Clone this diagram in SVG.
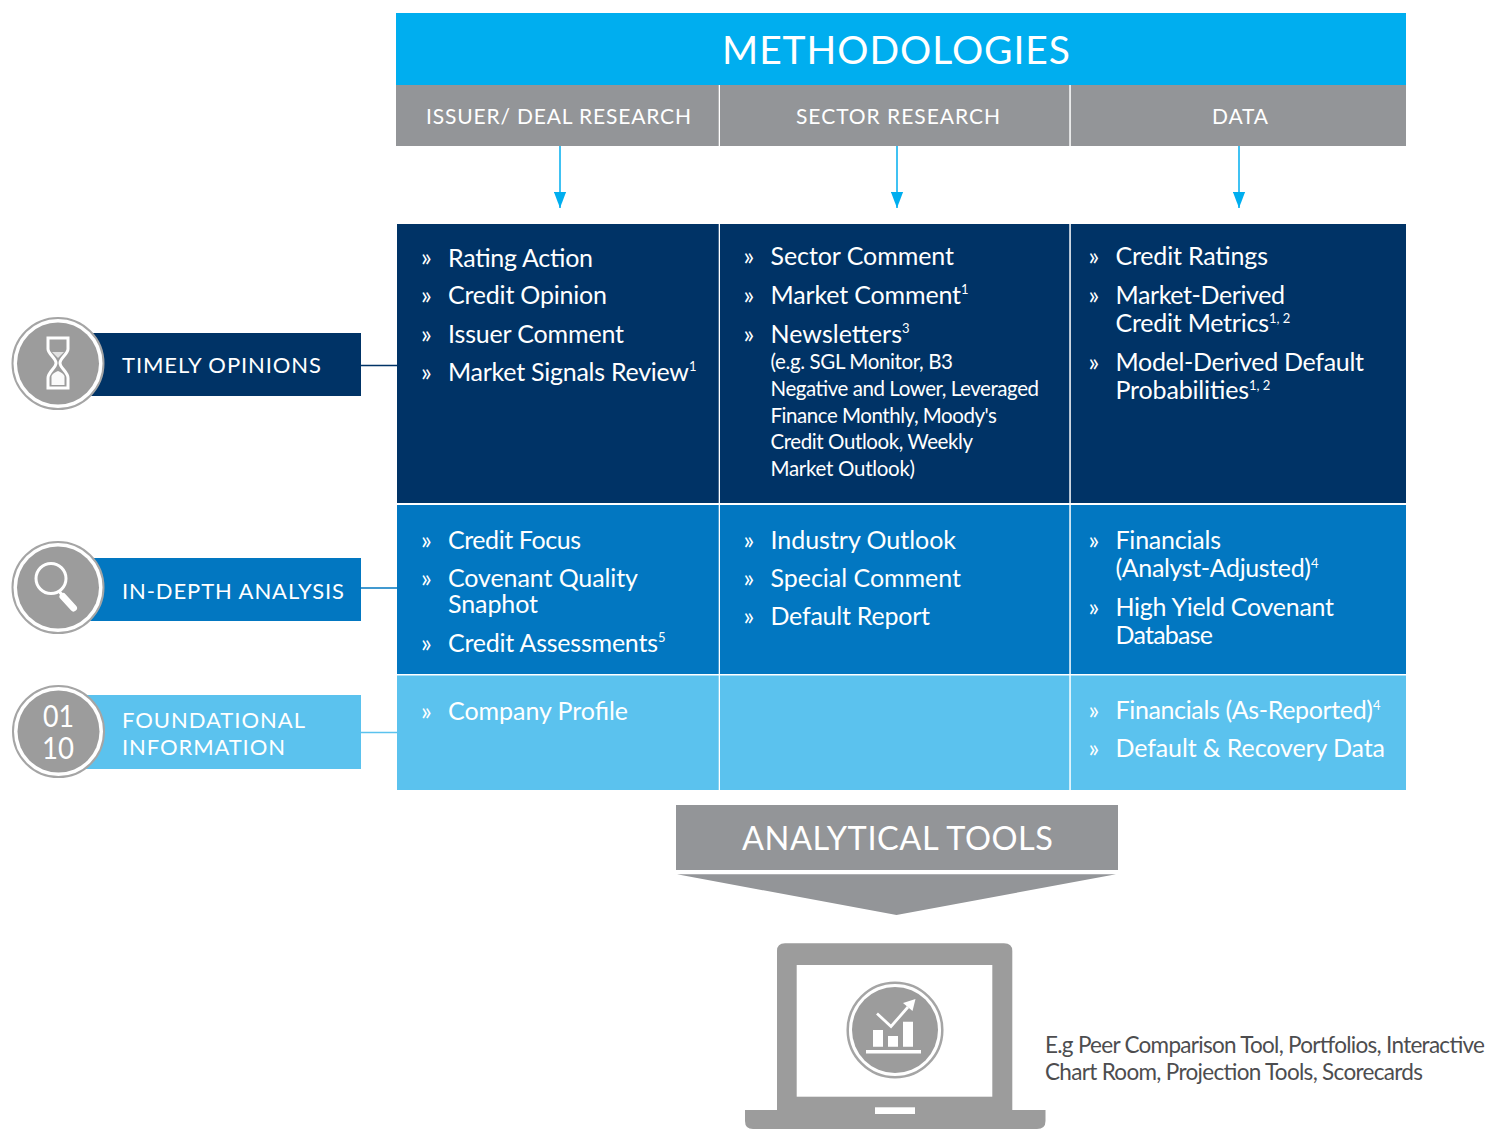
<svg xmlns="http://www.w3.org/2000/svg" width="1488" height="1129" viewBox="0 0 1488 1129">
<style>
text{font-family:"Lato","Open Sans",sans-serif;fill:#fff}
.h{font-size:21px}
.i{font-size:25px}
.s{font-size:20.5px}
.b{font-size:25px}
.u{font-size:13px}
.lb{font-size:22px}
.d{font-size:30.500px}
.n{font-size:22.500px;fill:#4d4d4f}
.navy{fill:#003366}.mid{fill:#0277c1}.lt{fill:#5bc2ee}.gr{fill:#939598}.ic{fill:#9c9c9c}
.ring{fill:#fff;stroke:#a5a5a5;stroke-width:2}
.arrow{stroke:#00aeef;stroke-width:1.500;fill:none;marker-end:url(#ah)}
</style>
<defs>
<marker id="ah" markerUnits="userSpaceOnUse" markerWidth="17" markerHeight="13" refX="16.500" refY="6.500" orient="auto" viewBox="0 0 17 13"><path d="M0 0.200L16.500 6.500L0 12.800Z" fill="#00aeef"/></marker>
</defs>
<rect width="1488" height="1129" fill="#fff"/>
<g id="methodologies"><rect x="396" y="13" width="1010" height="72" fill="#00aeef"/><text x="722" y="64" font-size="39" textLength="348">METHODOLOGIES</text></g>
<g id="col-issuer"><rect x="396" y="85" width="322.700" height="61" class="gr"/><text x="426" y="124" class="h" textLength="265">ISSUER/ DEAL RESEARCH</text></g>
<g id="col-sector"><rect x="720" y="85" width="349.300" height="61" class="gr"/><text x="796" y="124" class="h" textLength="204">SECTOR RESEARCH</text></g>
<g id="col-data"><rect x="1070.800" y="85" width="335.200" height="61" class="gr"/><text x="1212" y="124" class="h" textLength="56">DATA</text></g>
<g id="connectors">
<path d="M560 146V208" class="arrow"/>
<path d="M897 146V208" class="arrow"/>
<path d="M1239 146V208" class="arrow"/>
<path d="M361 365.500H397" stroke="#003366" stroke-width="1.500"/>
<path d="M361 588H397" stroke="#0277c1" stroke-width="1.500"/>
<path d="M361 732.500H397" stroke="#5bc2ee" stroke-width="1.500"/>
</g>
<g id="cell-r1c1"><rect x="397" y="224" width="321.700" height="279" class="navy"/>
<text x="421" y="266" class="b">»</text><text x="448" y="267" class="i" textLength="145">Rating Action</text>
<text x="421" y="304" class="b">»</text><text x="448" y="304" class="i" textLength="159">Credit Opinion</text>
<text x="421" y="343" class="b">»</text><text x="448" y="343" class="i" textLength="176">Issuer Comment</text>
<text x="421" y="381" class="b">»</text><text x="448" y="381" class="i" textLength="241">Market Signals Review</text><text x="689" y="371" class="u">1</text></g>
<g id="cell-r1c2"><rect x="720" y="224" width="349.300" height="279" class="navy"/>
<text x="743.500" y="265" class="b">»</text><text x="770.500" y="265" class="i" textLength="183.500">Sector Comment</text>
<text x="743.500" y="304" class="b">»</text><text x="770.500" y="304" class="i" textLength="190.500">Market Comment</text><text x="961" y="294" class="u">1</text>
<text x="743.500" y="343" class="b">»</text><text x="770.500" y="343" class="i" textLength="131.500">Newsletters</text><text x="902" y="333" class="u">3</text>
<text x="770.500" y="369" class="s" textLength="182.500">(e.g. SGL Monitor, B3</text>
<text x="770.500" y="396" class="s" textLength="268.500">Negative and Lower, Leveraged</text>
<text x="770.500" y="423" class="s" textLength="226.500">Finance Monthly, Moody's</text>
<text x="770.500" y="449" class="s" textLength="202.500">Credit Outlook, Weekly</text>
<text x="770.500" y="476" class="s" textLength="144.500">Market Outlook)</text></g>
<g id="cell-r1c3"><rect x="1070.800" y="224" width="335.200" height="279" class="navy"/>
<text x="1088.500" y="265" class="b">»</text><text x="1115.500" y="265" class="i" textLength="152.500">Credit Ratings</text>
<text x="1088.500" y="304" class="b">»</text><text x="1115.500" y="304" class="i" textLength="169.500">Market-Derived</text>
<text x="1115.500" y="332" class="i" textLength="153.500">Credit Metrics</text><text x="1269" y="323" class="u">1, 2</text>
<text x="1088.500" y="371" class="b">»</text><text x="1115.500" y="371" class="i" textLength="248.500">Model-Derived Default</text>
<text x="1115.500" y="399" class="i" textLength="133.500">Probabilities</text><text x="1249" y="390" class="u">1, 2</text></g>
<g id="cell-r2c1"><rect x="397" y="505" width="321.700" height="169" class="mid"/>
<text x="421" y="549" class="b">»</text><text x="448" y="549" class="i" textLength="133">Credit Focus</text>
<text x="421" y="587" class="b">»</text><text x="448" y="587" class="i" textLength="190">Covenant Quality</text>
<text x="448" y="613" class="i" textLength="90">Snaphot</text>
<text x="421" y="652" class="b">»</text><text x="448" y="652" class="i" textLength="210">Credit Assessments</text><text x="658" y="642" class="u">5</text></g>
<g id="cell-r2c2"><rect x="720" y="505" width="349.300" height="169" class="mid"/>
<text x="743.500" y="549" class="b">»</text><text x="770.500" y="549" class="i" textLength="185.500">Industry Outlook</text>
<text x="743.500" y="587" class="b">»</text><text x="770.500" y="587" class="i" textLength="190.500">Special Comment</text>
<text x="743.500" y="625" class="b">»</text><text x="770.500" y="625" class="i" textLength="159.500">Default Report</text></g>
<g id="cell-r2c3"><rect x="1070.800" y="505" width="335.200" height="169" class="mid"/>
<text x="1088.500" y="549" class="b">»</text><text x="1115.500" y="549" class="i" textLength="105.500">Financials</text>
<text x="1115.500" y="577" class="i" textLength="195.500">(Analyst-Adjusted)</text><text x="1311" y="568" class="u">4</text>
<text x="1088.500" y="616" class="b">»</text><text x="1115.500" y="616" class="i" textLength="218.500">High Yield Covenant</text>
<text x="1115.500" y="644" class="i" textLength="97.500">Database</text></g>
<g id="cell-r3c1"><rect x="397" y="675.500" width="321.700" height="114.500" class="lt"/>
<text x="421" y="720" class="b">»</text><text x="448" y="720" class="i" textLength="180">Company Profile</text></g>
<g id="cell-r3c2"><rect x="720" y="675.500" width="349.300" height="114.500" class="lt"/></g>
<g id="cell-r3c3"><rect x="1070.800" y="675.500" width="335.200" height="114.500" class="lt"/>
<text x="1088.500" y="719" class="b">»</text><text x="1115.500" y="719" class="i" textLength="257.500">Financials (As-Reported)</text><text x="1373" y="710" class="u">4</text>
<text x="1088.500" y="757" class="b">»</text><text x="1115.500" y="757" class="i" textLength="269.500">Default &amp; Recovery Data</text></g>
<g id="timely-opinions"><rect x="88" y="333" width="273" height="63" class="navy"/>
<circle cx="58" cy="363.500" r="45.500" class="ring"/><circle cx="58" cy="363.500" r="41" class="ic"/>
<path d="M48 338H68V349C68 354 60 358 60 363C60 368 68 372 68 378V388H48V378C48 372 56 368 56 363C56 358 48 354 48 349Z" fill="none" stroke="#fff" stroke-width="3"/>
<path d="M52 352H64L58 358Z" fill="#fff" opacity=".7"/><path d="M51.500 376C53 373 56 372 58 371C60 372 63 373 64.500 376V385H51.500Z" fill="#fafafa"/>
<text x="122" y="373" class="lb" textLength="199">TIMELY OPINIONS</text></g>
<g id="in-depth-analysis"><rect x="88" y="558" width="273" height="63" class="mid"/>
<circle cx="58" cy="587.500" r="45.500" class="ring"/><circle cx="58" cy="587.500" r="41" class="ic"/>
<circle cx="51" cy="578.500" r="15" fill="none" stroke="#fff" stroke-width="3"/><path d="M59 591L62 595" stroke="#fff" stroke-width="3"/><path d="M63 596.500L73.500 608" stroke="#fff" stroke-width="7" stroke-linecap="round"/>
<text x="122" y="599" class="lb" textLength="222">IN-DEPTH ANALYSIS</text></g>
<g id="foundational-information"><rect x="85" y="695" width="276" height="74" class="lt"/>
<circle cx="58.500" cy="731.500" r="45.500" class="ring"/><circle cx="58.500" cy="731.500" r="41" class="ic"/>
<text x="43" y="727" class="d" textLength="31" lengthAdjust="spacingAndGlyphs">01</text><text x="42" y="758.500" class="d" textLength="32" lengthAdjust="spacingAndGlyphs">10</text>
<text x="122" y="728" class="lb" textLength="183">FOUNDATIONAL</text><text x="122" y="755" class="lb" textLength="163">INFORMATION</text></g>
<g id="analytical-tools"><rect x="676" y="805" width="442" height="65" class="gr"/>
<path d="M677 874.300H1116L896.500 915Z" class="gr"/>
<text x="742" y="850" font-size="32.500" textLength="311">ANALYTICAL TOOLS</text></g>
<g id="laptop"><path d="M777 1110V951Q777 943.300 785 943.300H1004Q1012.300 943.300 1012.300 951V1110H1045.500V1121Q1045.500 1129 1037 1129H753Q745 1129 745 1121V1110Z" class="ic"/>
<rect x="796.700" y="965" width="195.600" height="131.700" fill="#fff"/><rect x="875" y="1107.300" width="40" height="6.700" fill="#fff"/>
<circle cx="895" cy="1030" r="47.300" fill="#fff" stroke="#a5a5a5" stroke-width="2.500"/><circle cx="895" cy="1030" r="43" class="ic"/>
<path d="M873 1030H883V1046.700H873ZM888 1036H898V1046.700H888ZM903 1021.700H913V1046.700H903ZM866 1050H921V1053.500H866Z" fill="#fff"/>
<path d="M877 1013.500L891 1026.500L908 1007" fill="none" stroke="#fff" stroke-width="2.800"/><path d="M915.500 999L912.500 1011L903 1003Z" fill="#fff"/></g>
<g id="tools-note"><text x="1045" y="1053" class="n" textLength="440">E.g Peer Comparison Tool, Portfolios, Interactive</text>
<text x="1045" y="1080" class="n" textLength="378">Chart Room, Projection Tools, Scorecards</text></g>
</svg>
